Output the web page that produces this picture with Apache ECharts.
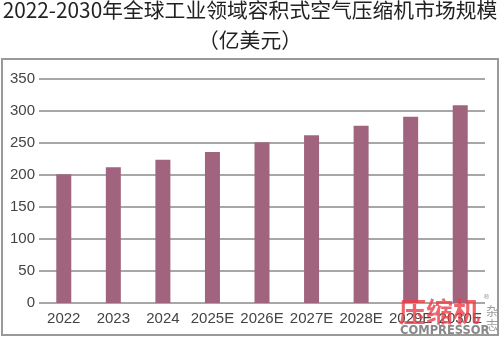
<!DOCTYPE html>
<html><head><meta charset="utf-8">
<script src="https://cdn.jsdelivr.net/npm/echarts@6/dist/echarts.min.js"></script>
<style>html,body{margin:0;padding:0;background:#fff}#c{width:500px;height:337px}</style>
</head><body><div id="c"></div>
<script>
const categories = ['2022','2023','2024','2025E','2026E','2027E','2028E','2029E','2030E'];
const values = [201, 212, 224, 236, 251, 262, 277, 291, 309];
const yTicks = [0, 50, 100, 150, 200, 250, 300, 350];

const chart = echarts.init(document.getElementById('c'));
chart.setOption({
  animation: false,
  backgroundColor: '#fff',
  title: {
    text: '2022-2030年全球工业领域容积式空气压缩机市场规模\n（亿美元）',
    left: 'center', top: -5, padding: 0,
    textStyle: {fontFamily: 'Noto Sans CJK SC', fontSize: 20.8, fontWeight: 'normal', color: '#222', lineHeight: 30}
  },
  graphic: [
    {type: 'rect', shape: {x: 2, y: 59, width: 496, height: 276}, style: {fill: 'none', stroke: '#999', lineWidth: 2}, z: -1},
    {type: 'text', left: 399, top: 298, style: {text: '压缩机', fill: 'rgba(235,60,70,0.8)', font: 'bold 27px "Noto Sans CJK SC"'}, z: 10},
    {type: 'text', left: 486, top: 304, style: {text: '杂\n志', fill: '#999', font: '12px "Noto Sans CJK SC"', lineHeight: 14}, z: 10},
    {type: 'text', left: 483, top: 294, style: {text: '®', fill: '#999', font: '7px "DejaVu Sans"'}, z: 10},
    {type: 'text', left: 400, top: 325, style: {text: 'COMPRESSOR', fill: '#888', font: 'bold 11.5px "DejaVu Sans"'}, z: 10}
  ],
  grid: {left: 39, right: 15, top: 79, bottom: 34, containLabel: false},
  xAxis: {
    type: 'category', data: categories,
    axisLine: {show: false}, axisTick: {show: false},
    axisLabel: {color: '#444', fontSize: 15, fontFamily: 'Liberation Sans', margin: 8, interval: 0}
  },
  yAxis: {
    type: 'value', min: 0, max: 350, interval: 50,
    axisLine: {show: false}, axisTick: {show: false},
    axisLabel: {color: '#444', fontSize: 15, fontFamily: 'Liberation Sans', margin: 4,
      formatter: v => yTicks.includes(v) ? String(v) : ''},
    splitLine: {lineStyle: {color: '#8a8a8a', width: 1.5}}
  },
  series: [{
    type: 'bar', data: values, barWidth: 15,
    itemStyle: {color: '#a0647e'}
  }]
});
</script></body></html>
